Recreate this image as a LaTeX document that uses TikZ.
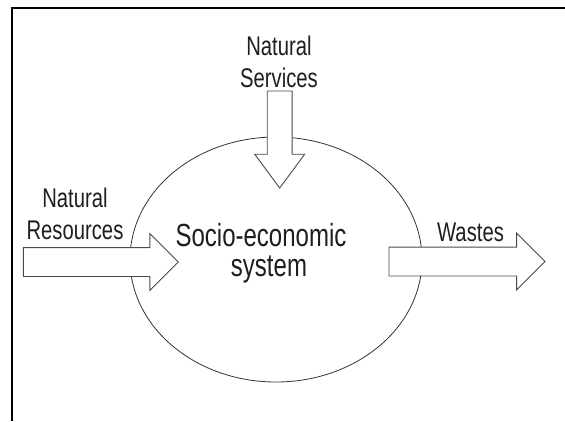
\documentclass[tikz,border=0pt]{standalone}
\usepackage{fontspec}
\setmainfont{Liberation Sans}[FakeStretch=0.75]
\usetikzlibrary{shapes.geometric,shapes.arrows}
\definecolor{inkgray}{HTML}{333333}
\definecolor{arrowgray}{HTML}{4A4A4A}
\definecolor{textdark}{HTML}{1E1E1E}

\begin{document}
\begin{tikzpicture}[x=1pt,y=-1pt,
	label text/.style={font=\fontsize{27}{32}\selectfont, text=textdark, align=center, inner sep=0pt},
	system text/.style={font=\fontsize{32}{30}\selectfont, text=textdark, align=center, inner sep=0pt},
	flow/.style={single arrow, draw=arrowgray, fill=white, line width=0.9pt, inner xsep=0pt, outer sep=0pt, minimum width=0pt, anchor=tail},
	side flow/.style={flow, inner ysep=14pt, single arrow head extend=14pt, single arrow tip angle=90},
	frame/.style={line width=1.6pt, black}]
\useasboundingbox (0,0) rectangle (565,421);
\draw[frame] (12,421) |- (565,8);

\node[ellipse, draw=inkgray, line width=0.8pt, minimum width=292pt, minimum height=245pt, inner sep=0pt] (eco) at (276,259.5) {};
\node[system text] (sys) at (261,253.5) {Socio-economic\\\hspace*{16pt}system};

% inflows and outflow
\node[label text] (svc) at (279,62) {Natural\\Services};
\node[flow, inner ysep=12pt, single arrow head extend=12.5pt, single arrow tip angle=73, minimum height=97pt, rotate=-90] (svcin) at (279.7,91) {};
\node[label text] (res) at (75,213.7) {Natural\\Resources};
\node[side flow, minimum height=155pt] (resin) at (23.3,262) {};
\node[label text, anchor=base] (waste) at (470.5,241.7) {Wastes};
\node[side flow, minimum height=156pt] (wasteout) at (389,261.5) {};
\end{tikzpicture}
\end{document}
